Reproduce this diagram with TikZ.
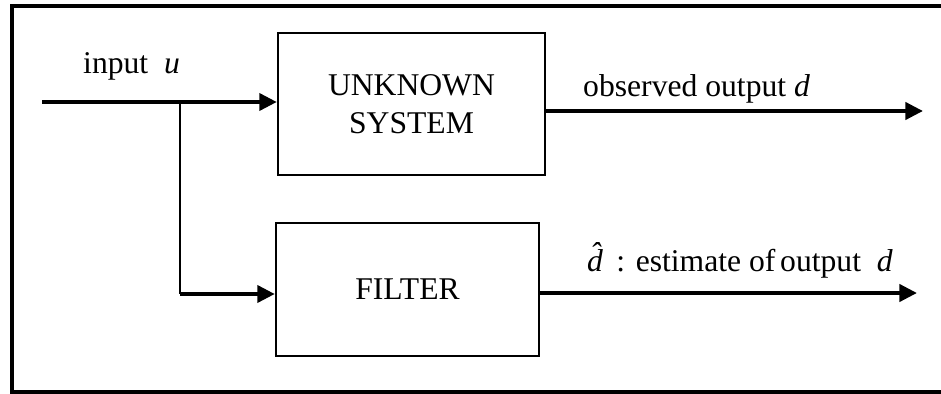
\documentclass[tikz,border=0pt]{standalone}
\usepackage{fontspec}
\setmainfont{Liberation Serif}
\usetikzlibrary{arrows.meta}

\tikzset{
  block/.style={draw, line width=2pt, align=center},
  sig/.style={line width=3.4pt, -{Triangle[length=15pt,width=14.5pt]}},
  lbl/.style={anchor=base west, inner sep=0pt},
}

\begin{document}
\begin{tikzpicture}[x=0.03cm, y=-0.03cm, font=\fontsize{27}{32.4}\selectfont]
            \useasboundingbox (0,0) rectangle (941,394);
            \draw[line width=2.6pt](12,6)rectangle(946,392);
            \node[block, minimum width=8.01cm, minimum height=4.26cm] (sys) at (411.5,104){UNKNOWN\\SYSTEM};
            \node[block, minimum width=7.89cm, minimum height=3.99cm] (flt) at (407.5,289.5){FILTER};
            \coordinate (in) at (42,102);
            \coordinate (br) at (180,102);
            \coordinate (bend) at (180,294);
            \coordinate (outD) at (923,111);
            \coordinate (outE) at (917,293);
            \draw[sig](in)--(in -| sys.west);
            \draw[line width=2pt](br)--(bend);
            \draw[sig](bend)--(bend -| flt.west);
            \draw[sig](outD -| sys.east)--(outD);
            \draw[sig](outE -| flt.east)--(outE);
            \node[lbl] (lin) at (83,74){input~~\textit{u}};
            \node[lbl] (lobs) at (583,97){observed output \textit{d}};
            \node[lbl] (lest) at (587,271){\textit{d\char"0302}\hspace{-0.2em} : estimate of\hspace{-0.1em} output~~\textit{d}};
        \end{tikzpicture}
\end{document}
